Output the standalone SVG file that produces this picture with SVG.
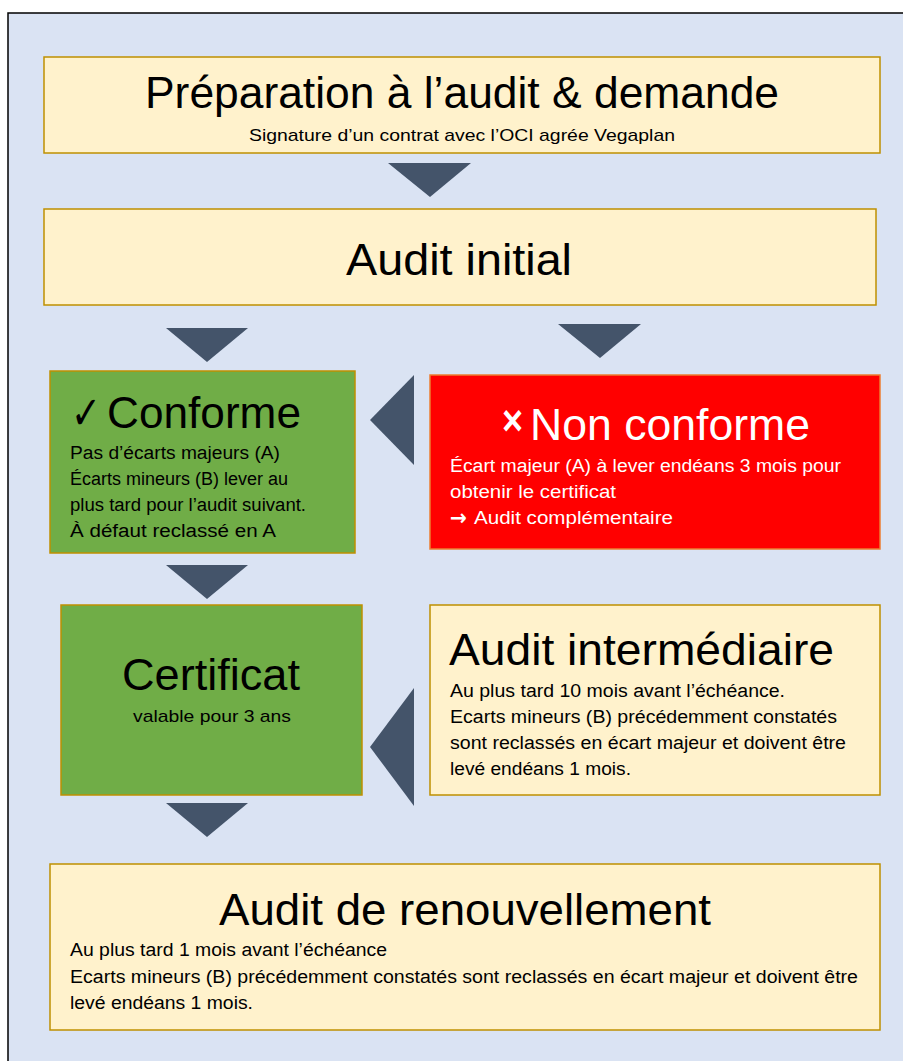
<svg xmlns="http://www.w3.org/2000/svg" width="903" height="1061" viewBox="0 0 903 1061">
<style>
.cream{fill:#FFF2CC;stroke:#BF9000;stroke-width:1.5}
.green{fill:#70AD47;stroke:#BF9000;stroke-width:1.5}
.red{fill:#FF0000;stroke:#ED7D31;stroke-width:1.5}
.arr{fill:#44546A}
text{font-family:"Liberation Sans","Open Sans",sans-serif;fill:#000}
.t{font-size:44px}
.b{font-size:18px}
.s{font-size:17px}
.w{fill:#fff}
</style>
<rect x="0" y="0" width="903" height="1061" fill="#fff"/>
<rect x="8" y="13" width="900" height="1055" fill="#DAE3F3" stroke="#000" stroke-width="1.5"/>
<g id="connectors">
<polygon class="arr" points="388,163 471,163 430,197"/>
<polygon class="arr" points="166,328 248,328 207,362"/>
<polygon class="arr" points="558,324 641,324 600,358"/>
<polygon class="arr" points="414,375 414,465 370,420"/>
<polygon class="arr" points="166,565 248,565 207,599"/>
<polygon class="arr" points="414,688 414,806 370,747"/>
<polygon class="arr" points="166,803 248,803 207,837"/>
</g>
<g id="preparation">
<rect class="cream" x="44" y="57" width="836" height="96"/>
<text class="t" x="145" y="108" textLength="634" lengthAdjust="spacingAndGlyphs">Préparation à l’audit &amp; demande</text>
<text class="s" x="249" y="141" textLength="426" lengthAdjust="spacingAndGlyphs">Signature d’un contrat avec l’OCI agrée Vegaplan</text>
</g>
<g id="audit-initial">
<rect class="cream" x="44" y="209" width="832" height="96"/>
<text class="t" x="346" y="275" textLength="226" lengthAdjust="spacingAndGlyphs">Audit initial</text>
</g>
<g id="conforme">
<rect class="green" x="50" y="371" width="305" height="182"/>
<text x="71" y="429" textLength="30" lengthAdjust="spacingAndGlyphs" style="font-family:'DejaVu Sans',sans-serif;font-size:46px">✓</text>
<text class="t" x="107" y="428" textLength="194" lengthAdjust="spacingAndGlyphs">Conforme</text>
<text class="b" x="70" y="459" textLength="210" lengthAdjust="spacingAndGlyphs">Pas d’écarts majeurs (A)</text>
<text class="b" x="70" y="485" textLength="218" lengthAdjust="spacingAndGlyphs">Écarts mineurs (B) lever au</text>
<text class="b" x="70" y="511" textLength="236" lengthAdjust="spacingAndGlyphs">plus tard pour l’audit suivant.</text>
<text class="b" x="70" y="537" textLength="206" lengthAdjust="spacingAndGlyphs">À défaut reclassé en A</text>
</g>
<g id="non-conforme">
<rect class="red" x="430" y="375" width="450" height="174"/>
<text class="w" x="502" y="435" textLength="21" lengthAdjust="spacingAndGlyphs" style="font-size:42px;font-weight:bold">×</text>
<text class="t w" x="530" y="440" textLength="280" lengthAdjust="spacingAndGlyphs">Non conforme</text>
<text class="b w" x="450" y="472" textLength="391" lengthAdjust="spacingAndGlyphs">Écart majeur (A) à lever endéans 3 mois pour</text>
<text class="b w" x="450" y="498" textLength="166" lengthAdjust="spacingAndGlyphs">obtenir le certificat</text>
<text class="w" x="450" y="525" textLength="17" lengthAdjust="spacingAndGlyphs" style="font-family:'DejaVu Sans',sans-serif;font-size:22px;font-weight:bold">→</text>
<text class="b w" x="474" y="524" textLength="199" lengthAdjust="spacingAndGlyphs">Audit complémentaire</text>
</g>
<g id="certificat">
<rect class="green" x="61" y="605" width="301" height="190"/>
<text class="t" x="122" y="690" textLength="178" lengthAdjust="spacingAndGlyphs">Certificat</text>
<text class="s" x="133" y="722" textLength="158" lengthAdjust="spacingAndGlyphs">valable pour 3 ans</text>
</g>
<g id="audit-intermediaire">
<rect class="cream" x="430" y="605" width="450" height="190"/>
<text class="t" x="449" y="665" textLength="385" lengthAdjust="spacingAndGlyphs">Audit intermédiaire</text>
<text class="b" x="450" y="697" textLength="335" lengthAdjust="spacingAndGlyphs">Au plus tard 10 mois avant l’échéance.</text>
<text class="b" x="450" y="723" textLength="387" lengthAdjust="spacingAndGlyphs">Ecarts mineurs (B) précédemment constatés</text>
<text class="b" x="450" y="749" textLength="396" lengthAdjust="spacingAndGlyphs">sont reclassés en écart majeur et doivent être</text>
<text class="b" x="450" y="775" textLength="181" lengthAdjust="spacingAndGlyphs">levé endéans 1 mois.</text>
</g>
<g id="audit-renouvellement">
<rect class="cream" x="50" y="864" width="830" height="166"/>
<text class="t" x="219" y="925" textLength="492" lengthAdjust="spacingAndGlyphs">Audit de renouvellement</text>
<text class="b" x="70" y="956" textLength="317" lengthAdjust="spacingAndGlyphs">Au plus tard 1 mois avant l’échéance</text>
<text class="b" x="70" y="983" textLength="788" lengthAdjust="spacingAndGlyphs">Ecarts mineurs (B) précédemment constatés sont reclassés en écart majeur et doivent être</text>
<text class="b" x="70" y="1009" textLength="183" lengthAdjust="spacingAndGlyphs">levé endéans 1 mois.</text>
</g>
</svg>
